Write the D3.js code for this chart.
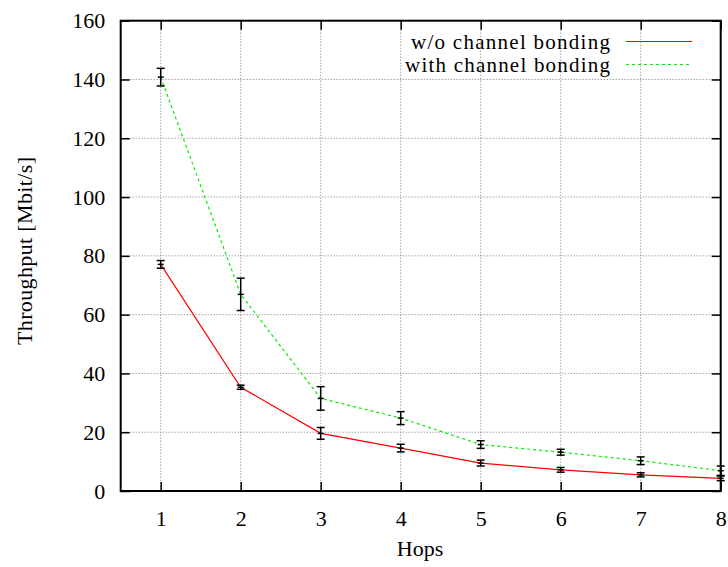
<!DOCTYPE html>
<html><head><meta charset="utf-8">
<script src="https://cdn.jsdelivr.net/npm/d3@7"></script>
<style>body{margin:0;background:#fff}svg{display:block}</style>
</head><body><svg id="c" width="728" height="567"></svg>
<script>
const hops = [1,2,3,4,5,6,7,8];
const woValues = [77.1,35.3,19.6,14.6,9.5,7.2,5.5,4.3];
const woErrors = [1.3,0.7,2.0,1.3,1.0,0.8,0.7,0.8];
const withValues = [140.8,66.9,31.5,24.8,15.8,13.2,10.3,6.9];
const withErrors = [3.0,5.5,4.0,2.2,1.3,1.0,1.3,1.6];
const yTicks = [0,20,40,60,80,100,120,140,160];
const xTicks = [1,2,3,4,5,6,7,8];
const seriesNames = ["w/o channel bonding","with channel bonding"];

const FF = "'Liberation Serif', 'Times New Roman', Times, serif";
const svg = d3.select("#c");
const L=120.7, R=720.7, T=20.7, B=491;
const x = d3.scaleLinear().domain([0.5,8]).range([L,R]);
const y = d3.scaleLinear().domain([0,160]).range([B,T]);
const fs = 22;

// grid
const g = svg.append("g");
g.selectAll(".gx").data(xTicks).join("line")
 .attr("x1",d=>x(d)).attr("x2",d=>x(d)).attr("y1",T).attr("y2",B)
 .attr("stroke","#777").attr("stroke-width",1).attr("stroke-dasharray","1,2");
g.selectAll(".gy").data(yTicks.filter(d=>d>0&&d<160)).join("line")
 .attr("x1",L).attr("x2",R).attr("y1",d=>y(d)).attr("y2",d=>y(d))
 .attr("stroke","#777").attr("stroke-width",1).attr("stroke-dasharray","1,2");

// axes with inward ticks (mirrored)
const tl = 9;
function styleText(a){a.attr("font-family",FF).attr("font-size",fs);a.selectAll("text").attr("fill","#000");}
svg.append("g").attr("transform",`translate(0,${B})`)
 .call(d3.axisBottom(x).tickValues(xTicks).tickSize(-tl).tickPadding(19).tickFormat(d3.format("d")))
 .call(a=>{a.select(".domain").remove();styleText(a);});
svg.append("g").attr("transform",`translate(0,${T})`)
 .call(d3.axisTop(x).tickValues(xTicks).tickSize(-tl).tickFormat(""))
 .call(a=>a.select(".domain").remove());
svg.append("g").attr("transform",`translate(${L},0)`)
 .call(d3.axisLeft(y).tickValues(yTicks).tickSize(-tl).tickPadding(15.5).tickFormat(d3.format("d")))
 .call(a=>{a.select(".domain").remove();styleText(a);});
svg.append("g").attr("transform",`translate(${R},0)`)
 .call(d3.axisRight(y).tickValues(yTicks).tickSize(-tl).tickFormat(""))
 .call(a=>a.select(".domain").remove());
svg.selectAll(".tick line").attr("stroke","#000").attr("stroke-width",1.5);

// frame
svg.append("rect").attr("x",L).attr("y",T).attr("width",R-L).attr("height",B-T)
 .attr("fill","none").attr("stroke","#000").attr("stroke-width",2);

// lines
const line = d3.line().x((d,i)=>x(hops[i])).y(d=>y(d));
svg.append("path").datum(woValues).attr("d",line).attr("fill","none").attr("stroke","#f00").attr("stroke-width",1.2);
svg.append("path").datum(withValues).attr("d",line).attr("fill","none").attr("stroke","#0e0").attr("stroke-width",1.2).attr("stroke-dasharray","3,3");

// error bars
function errs(vals, errsArr){
  const eg = svg.append("g").attr("stroke","#000").attr("stroke-width",1.5);
  vals.forEach((v,i)=>{
    const cx = x(hops[i]);
    eg.append("line").attr("x1",cx).attr("x2",cx).attr("y1",y(v-errsArr[i])).attr("y2",y(v+errsArr[i]));
    eg.append("line").attr("x1",cx-4).attr("x2",cx+4).attr("y1",y(v-errsArr[i])).attr("y2",y(v-errsArr[i]));
    eg.append("line").attr("x1",cx-4).attr("x2",cx+4).attr("y1",y(v+errsArr[i])).attr("y2",y(v+errsArr[i]));
    eg.append("line").attr("x1",cx-3).attr("x2",cx+3).attr("y1",y(v)).attr("y2",y(v));
  });
}
errs(woValues,woErrors);
errs(withValues,withErrors);

// legend
const lg = svg.append("g");
const rows = [{name:seriesNames[0],color:"#f00",dash:null,y:41.5,base:49,len:199},
              {name:seriesNames[1],color:"#0e0",dash:"3,3",y:64.5,base:72,len:205}];
rows.forEach(r=>{
  lg.append("text").attr("x",610).attr("y",r.base).attr("text-anchor","end")
    .attr("font-family",FF).attr("font-size",21).attr("fill","#000")
    .attr("textLength",r.len).attr("lengthAdjust","spacing").text(r.name);
  const ln = lg.append("line").attr("x1",626).attr("x2",692).attr("y1",r.y).attr("y2",r.y).attr("stroke",r.color).attr("stroke-width",1.2);
  if (r.dash) ln.attr("stroke-dasharray",r.dash);
});

// axis titles
svg.append("text").attr("x",420).attr("y",549).attr("dy","0.32em").attr("text-anchor","middle")
 .attr("font-family",FF).attr("font-size",fs).attr("fill","#000").text("Hops");
svg.append("text").attr("transform","translate(25,251) rotate(-90)").attr("dy","0.32em").attr("text-anchor","middle")
 .attr("font-family",FF).attr("font-size",fs).attr("fill","#000")
 .attr("textLength",188).attr("lengthAdjust","spacing").text("Throughput [Mbit/s]");
</script></body></html>
